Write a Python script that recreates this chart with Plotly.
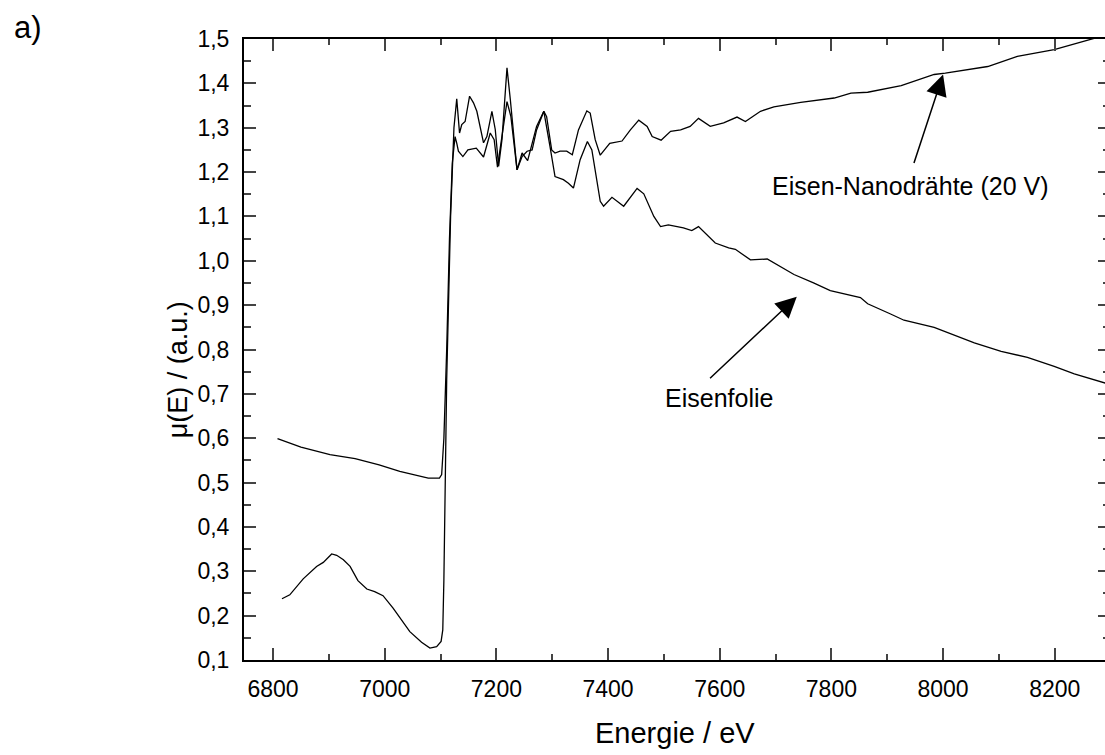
import plotly.graph_objects as go

# Eisenfolie (foil)
foil_x = [6808, 6850, 6902, 6947, 6990, 7027, 7078, 7098, 7102, 7106, 7111, 7116, 7121, 7126,
          7129, 7132, 7140, 7149, 7164, 7177, 7189, 7196, 7202, 7210, 7219, 7226, 7237, 7246,
          7256, 7272, 7285, 7296, 7305, 7320, 7329, 7338, 7350, 7363, 7371, 7386, 7392, 7407,
          7428, 7452, 7464, 7482, 7494, 7508, 7535, 7550, 7562, 7592, 7616, 7628, 7655, 7685,
          7733, 7768, 7798, 7852, 7865, 7906, 7930, 7984, 8056, 8104, 8151, 8199, 8235, 8291]
foil_y = [0.599, 0.580, 0.563, 0.554, 0.540, 0.525, 0.510, 0.510, 0.518, 0.600, 0.800, 1.050, 1.220, 1.280,
          1.265, 1.247, 1.235, 1.250, 1.254, 1.234, 1.288, 1.273, 1.211, 1.280, 1.359, 1.325, 1.205, 1.243,
          1.226, 1.303, 1.337, 1.258, 1.190, 1.183, 1.175, 1.164, 1.228, 1.269, 1.250, 1.134, 1.123, 1.143,
          1.123, 1.163, 1.151, 1.100, 1.077, 1.081, 1.074, 1.068, 1.077, 1.040, 1.029, 1.026, 1.002, 1.004,
          0.969, 0.950, 0.933, 0.917, 0.903, 0.880, 0.866, 0.850, 0.815, 0.796, 0.782, 0.762, 0.745, 0.724]

# Eisen-Nanodrähte (20 V)
wire_x = [6816, 6830, 6854, 6878, 6890, 6905, 6914, 6926, 6938, 6952, 6968, 6982, 6997, 7015,
          7045, 7066, 7081, 7093, 7101, 7104, 7106, 7111, 7118, 7124, 7129, 7134, 7138, 7144,
          7152, 7159, 7165, 7177, 7183, 7192, 7198, 7204, 7210, 7219, 7225, 7237, 7246, 7255,
          7264, 7272, 7285, 7290, 7299, 7305, 7314, 7326, 7336, 7347, 7362, 7368, 7377, 7386,
          7403, 7425, 7440, 7455, 7470, 7479, 7495, 7512, 7530, 7547, 7562, 7583, 7607, 7631,
          7646, 7673, 7697, 7745, 7805, 7835, 7865, 7925, 7984, 8004, 8080, 8133, 8199, 8259, 8275]
wire_y = [0.238, 0.247, 0.283, 0.311, 0.320, 0.339, 0.336, 0.326, 0.311, 0.279, 0.260, 0.254, 0.245, 0.217,
          0.164, 0.140, 0.127, 0.130, 0.142, 0.168, 0.281, 0.732, 1.100, 1.300, 1.365, 1.288, 1.307, 1.314,
          1.371, 1.356, 1.337, 1.266, 1.280, 1.337, 1.296, 1.213, 1.273, 1.435, 1.363, 1.205, 1.235, 1.247,
          1.250, 1.295, 1.337, 1.325, 1.250, 1.243, 1.247, 1.247, 1.239, 1.295, 1.338, 1.333, 1.273, 1.238,
          1.265, 1.270, 1.295, 1.317, 1.303, 1.280, 1.272, 1.292, 1.295, 1.303, 1.321, 1.303, 1.311, 1.324,
          1.314, 1.337, 1.347, 1.357, 1.367, 1.378, 1.380, 1.395, 1.420, 1.423, 1.438, 1.461, 1.476, 1.498, 1.503]

x_range = [6748, 8290]
y_range = [0.1, 1.5]

FONT = "Liberation Sans, Arial, sans-serif"

fig = go.Figure()
fig.add_trace(go.Scatter(x=foil_x, y=foil_y, mode="lines", line=dict(color="black", width=1.3),
                         showlegend=False))
fig.add_trace(go.Scatter(x=wire_x, y=wire_y, mode="lines", line=dict(color="black", width=1.3),
                         showlegend=False))
fig.add_trace(go.Scatter(x=[], y=[], yaxis="y2", showlegend=False))

fig.update_layout(
    width=1105, height=755,
    margin=dict(l=244, r=0, t=39, b=95),
    paper_bgcolor="white", plot_bgcolor="white",
    separators=", ",
    font=dict(family=FONT, size=23, color="black"),
    xaxis=dict(range=x_range, tick0=6800, dtick=200, ticks="inside", ticklen=12, tickwidth=2,
               showline=True, linewidth=2, linecolor="black", mirror="ticks", showgrid=False,
               zeroline=False, tickfont=dict(size=23), ticklabelstandoff=7,
               minor=dict(dtick=100, tick0=6800, ticks="inside", ticklen=6, tickwidth=2, showgrid=False)),
    yaxis=dict(range=y_range, tick0=0.1, dtick=0.1, tickformat=".1f", ticks="inside", ticklen=12,
               tickwidth=2, showline=True, linewidth=2, linecolor="black", mirror=False, showgrid=False,
               zeroline=False, tickfont=dict(size=23), ticklabelstandoff=8,
               minor=dict(dtick=0.05, tick0=0.1, ticks="inside", ticklen=7, tickwidth=2, showgrid=False)),
    yaxis2=dict(range=y_range, overlaying="y", side="right", anchor="x", tick0=0.1, dtick=0.1,
                ticks="inside", ticklen=7, tickwidth=2, showline=False, showgrid=False, zeroline=False,
                showticklabels=False,
                minor=dict(dtick=0.05, tick0=0.1, ticks="inside", ticklen=2, tickwidth=1.5, showgrid=False)),
)

annos = [
    dict(text="Energie / eV", xref="paper", yref="paper", x=0.5, y=-0.117, xanchor="center",
         yanchor="middle", showarrow=False, font=dict(size=29)),
    dict(text="\u03bc(E) / (a.u.)", xref="paper", yref="paper", x=-0.0772, y=0.4675, xanchor="center",
         yanchor="middle", textangle=-90, showarrow=False, font=dict(size=27)),
    dict(text="a)", xref="paper", yref="paper", x=-0.2509, y=1.0182, xanchor="center", yanchor="middle",
         showarrow=False, font=dict(size=31)),
    dict(text="Eisen-Nanodrähte (20 V)", x=7942, y=1.169, xanchor="center", yanchor="middle",
         showarrow=False, font=dict(size=25)),
    dict(text="Eisenfolie", x=7598, y=0.691, xanchor="center", yanchor="middle",
         showarrow=False, font=dict(size=25)),
    dict(text="", x=8000, y=1.42, ax=7947, ay=1.217, axref="x", ayref="y", showarrow=True,
         arrowhead=2, arrowsize=2.8, arrowwidth=1.5, arrowcolor="black"),
    dict(text="", x=7738, y=0.919, ax=7580, ay=0.732, axref="x", ayref="y", showarrow=True,
         arrowhead=2, arrowsize=2.8, arrowwidth=1.5, arrowcolor="black"),
]
fig.update_layout(annotations=annos)

fig.write_html("out.html")
